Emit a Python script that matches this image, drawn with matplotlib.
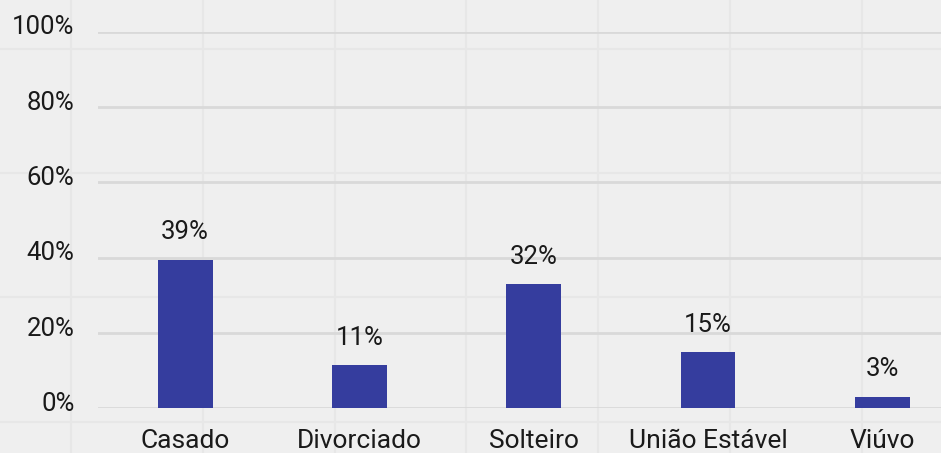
import matplotlib
matplotlib.use("Agg")
import matplotlib.pyplot as plt
import matplotlib.transforms as mtransforms
import numpy as np

categorias = ["Casado", "Divorciado", "Solteiro", "União Estável", "Viúvo"]
percentuais = [39.5, 11.5, 32.9, 14.9, 3.1]
rotulos = ["39%", "11%", "32%", "15%", "3%"]
yticks = [0, 20, 40, 60, 80, 100]

plt.rcParams["font.family"] = ["Roboto", "DejaVu Sans"]

W, H = 941, 453
fig = plt.figure(figsize=(W / 100, H / 100), dpi=100)
fig.patch.set_facecolor("#efefef")

# fundo quadriculado
bg = fig.add_axes([0, 0, 1, 1], zorder=0)
bg.set_xlim(0, W)
bg.set_ylim(H, 0)
bg.set_facecolor("#efefef")
bg.set_xticks(np.arange(71, W, 131.8))
bg.set_yticks(np.arange(49, H, 124.2))
bg.grid(True, color="#e7e7e7", linewidth=1.5)
bg.tick_params(length=0, labelleft=False, labelbottom=False)
for s in bg.spines.values():
    s.set_visible(False)

ax = fig.add_axes([98 / W, (H - 408.3) / H, 871.5 / W, 376.6 / H], zorder=1)
ax.patch.set_alpha(0)
x = np.arange(len(categorias))
ax.bar(x, percentuais, width=0.314, color="#353d9e", zorder=3)
for xi, v, r in zip(x, percentuais, rotulos):
    ax.annotate(r, (xi, v), xytext=(0, 11), textcoords="offset points",
                ha="center", va="bottom", fontsize=18.5, color="#1a1a1a")

ax.set_xlim(-0.5, 4.5)
ax.set_ylim(0, 100)
ax.set_yticks(yticks)
ax.set_yticklabels([f"{t}%" for t in yticks])
ax.set_xticks(x)
ax.set_xticklabels(categorias)
ax.tick_params(axis="both", length=0, labelcolor="#1a1a1a")
ax.tick_params(axis="y", pad=17, labelsize=18.5)
ax.tick_params(axis="x", pad=15, labelsize=19)
ax.grid(axis="y", color="#d9d9d9", linewidth=2, zorder=1)
ax.set_axisbelow(True)
for s in ax.spines.values():
    s.set_visible(False)

offset = mtransforms.ScaledTranslation(0, 5 / 72, fig.dpi_scale_trans)
for lab in ax.get_yticklabels():
    lab.set_transform(lab.get_transform() + offset)

fig.savefig("out.png", dpi=100, facecolor=fig.get_facecolor())
